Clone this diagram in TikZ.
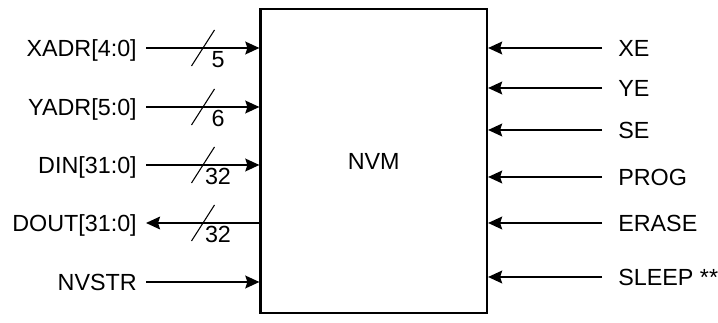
\documentclass[tikz,border=0pt]{standalone}
\usepackage{fontspec}
\setmainfont{Liberation Sans}
\usepackage{tikz}
\usetikzlibrary{arrows.meta, positioning, calc}

\begin{document}
\begin{tikzpicture}[
    x=0.75pt, y=-0.75pt,
    lbl/.style={font=\fontsize{17.5}{21}\selectfont, inner ysep=0pt, text height=12.5pt, text depth=0pt},
    inlbl/.style={lbl, anchor=east, inner xsep=6.75pt},
    outlbl/.style={lbl, anchor=west, inner xsep=12pt},
    arrow/.style={-{Stealth[length=10.5pt, width=9.5pt, inset=1.5pt]}, line width=1.6pt},
    slash/.style={line width=0.8pt},
]
    \useasboundingbox (0,0) rectangle (718,323);

    % Memory block
    \node[draw, line width=1.6pt, minimum width=169.9pt, minimum height=228pt,
          inner sep=0pt, font=\fontsize{17.5}{21}\selectfont] (nvm) at (373.75,161) {\raisebox{-3pt}{NVM}};

    % Left side signals
    \node[inlbl] (xadr) at (146,48) {XADR[4:0]};
    \node[inlbl] (yadr) at (146,107) {YADR[5:0]};
    \node[inlbl] (din) at (146,165) {DIN[31:0]};
    \node[inlbl] (dout) at (146,223) {DOUT[31:0]};
    \node[inlbl] (nvstr) at (146,282) {NVSTR};

    \draw[arrow] (xadr.east) -- (xadr.east -| nvm.west);
    \draw[arrow] (yadr.east) -- (yadr.east -| nvm.west);
    \draw[arrow] (din.east) -- (din.east -| nvm.west);
    \draw[arrow] (dout.east -| nvm.west) -- (dout.east);
    \draw[arrow] (nvstr.east) -- (nvstr.east -| nvm.west);

    % Bus widths
    \coordinate (slx) at (203,0);
    \foreach \s/\w in {xadr/5, yadr/6, din/32, dout/32} {
        \draw[slash] ($(\s.east -| slx)+(-11.5,18)$) -- ($(\s.east -| slx)+(11.5,-18)$);
        \node[lbl, inner sep=0pt] at ($(\s.east -| slx)+(15,11.5)$) {\w};
    }

    % Right side controls
    \node[outlbl] (xe) at (602,48) {XE};
    \node[outlbl] (ye) at (602,88) {YE};
    \node[outlbl] (se) at (602,130) {SE};
    \node[outlbl] (prog) at (602,177) {PROG};
    \node[outlbl] (erase) at (602,223) {ERASE};
    \node[outlbl] (sleep) at (602,277) {SLEEP **};

    \foreach \s in {xe, ye, se, prog, erase, sleep}
        \draw[arrow] (\s.west) -- (\s.west -| nvm.east);

\end{tikzpicture}
\end{document}
